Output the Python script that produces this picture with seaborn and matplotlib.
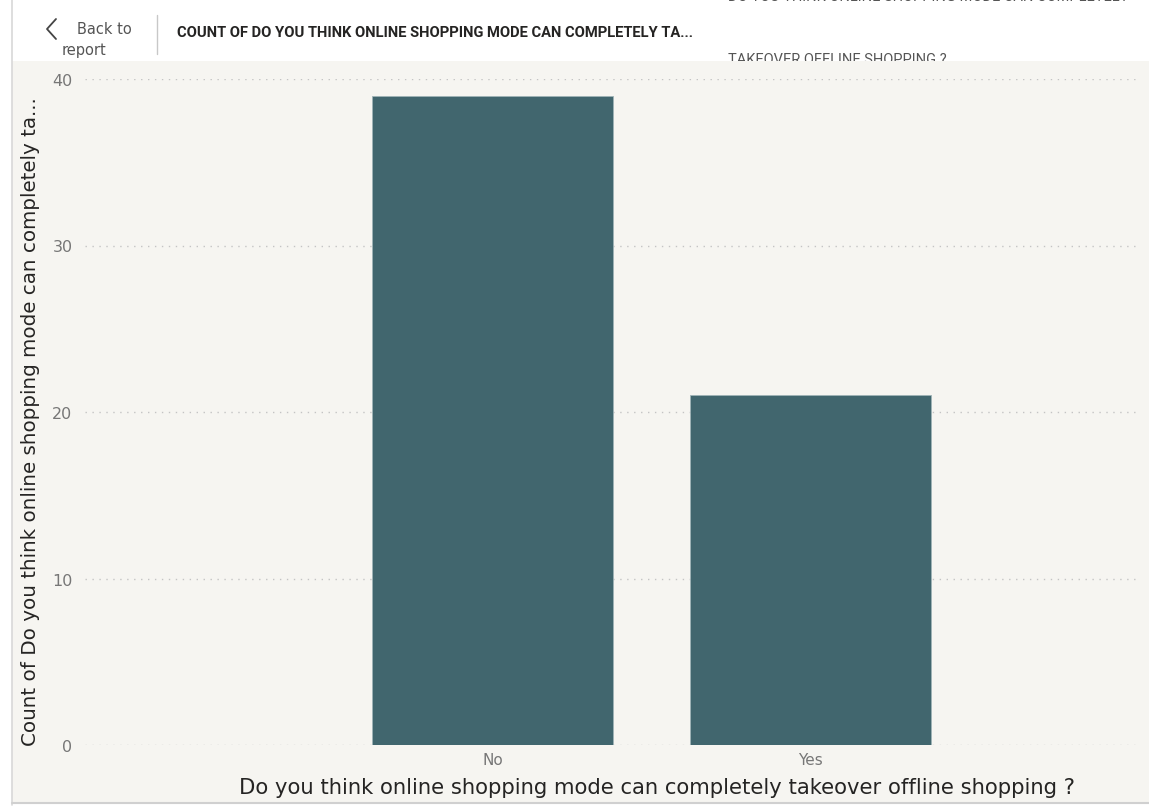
import matplotlib

matplotlib.use("Agg")
import matplotlib.pyplot as plt
import pandas as pd
import seaborn as sns
from matplotlib.lines import Line2D
from matplotlib.patches import Rectangle

# data
answers = ["No", "Yes"]
counts = [39, 21]
y_ticks = [0, 10, 20, 30, 40]

title = "COUNT OF DO YOU THINK ONLINE SHOPPING MODE CAN COMPLETELY TA..."
x_label = "Do you think online shopping mode can completely takeover offline shopping ?"
y_label = "Count of Do you think online shopping mode can completely ta..."

BAR = "#41666E"
BG = "#F6F5F1"
W, H = 1149, 812

sns.set_theme(style="white")
plt.rcParams["font.family"] = ["DejaVu Sans"]

df = pd.DataFrame({"answer": answers, "count": counts})

fig = plt.figure(figsize=(W / 100, H / 100), dpi=100)
fig.patch.set_facecolor("white")


def fx(px):
    return px / W


def fy(py):
    return 1 - py / H


# tooltip text on the top right, partly hidden by the report area
fig.text(fx(728), fy(-3), "DO YOU THINK ONLINE SHOPPING MODE CAN COMPLETELY",
         ha="left", va="center", fontsize=10.5, family="Roboto", color="#555555", zorder=-3)
fig.text(fx(728), fy(60), "TAKEOVER OFFLINE SHOPPING ?", ha="left", va="center",
         fontsize=10.5, family="Roboto", color="#555555", zorder=-3)

# beige report area + borders
panel = Rectangle((fx(12), fy(803)), fx(1149 - 12), (803 - 62) / H,
                  transform=fig.transFigure, facecolor=BG, edgecolor="none", zorder=-1)
fig.patches.append(panel)
fig.lines.append(Line2D([fx(12), fx(12)], [fy(0), fy(806)], transform=fig.transFigure,
                        color="#D8D8D8", lw=1.2))
fig.lines.append(Line2D([fx(12), 1], [fy(804), fy(804)], transform=fig.transFigure,
                        color="#D0D0D0", lw=1.5))

ax = fig.add_axes([fx(85), fy(746), fx(1140 - 85), (746 - 80) / H])
ax.set_facecolor("none")

sns.barplot(data=df, x="answer", y="count", color=BAR, width=0.758, saturation=1,
            edgecolor="#9FB3B7", linewidth=0.6, ax=ax, zorder=3)

ax.set_xlim(-1.281, 2.036)
ax.set_ylim(0, 40)
ax.set_yticks(y_ticks)
ax.yaxis.grid(True, color="#C4C4C4", linestyle=(0, (1, 4)), linewidth=1.0, zorder=0)
ax.set_axisbelow(True)
for s in ax.spines.values():
    s.set_visible(False)
ax.tick_params(axis="y", colors="#777777", labelsize=11.5, length=0, pad=9)
ax.tick_params(axis="x", colors="#777777", labelsize=11, length=0, pad=5)
ax.set_xlabel("")
ax.set_ylabel("")

fig.text(fx(657), fy(788), x_label, ha="center", va="center", fontsize=15.2, color="#252423")
fig.text(fx(31), fy(422), y_label, ha="center", va="center", rotation=90,
         fontsize=14.3, color="#252423")

# header
fig.lines.append(Line2D([fx(56), fx(47), fx(56)], [fy(20), fy(30), fy(40)],
                        transform=fig.transFigure, color="#444444", lw=1.3))
fig.text(fx(77), fy(30), "Back to", ha="left", va="center", fontsize=10.5, color="#555555")
fig.text(fx(62), fy(50), "report", ha="left", va="center", fontsize=10.5, color="#555555")
fig.lines.append(Line2D([fx(157), fx(157)], [fy(16), fy(55)], transform=fig.transFigure,
                        color="#C8C8C8", lw=1))
fig.text(fx(177), fy(33), title, ha="left", va="center", fontsize=10.6, fontweight="bold",
         family="Roboto", color="#252423")

fig.savefig("out.png", dpi=100, facecolor="white")
